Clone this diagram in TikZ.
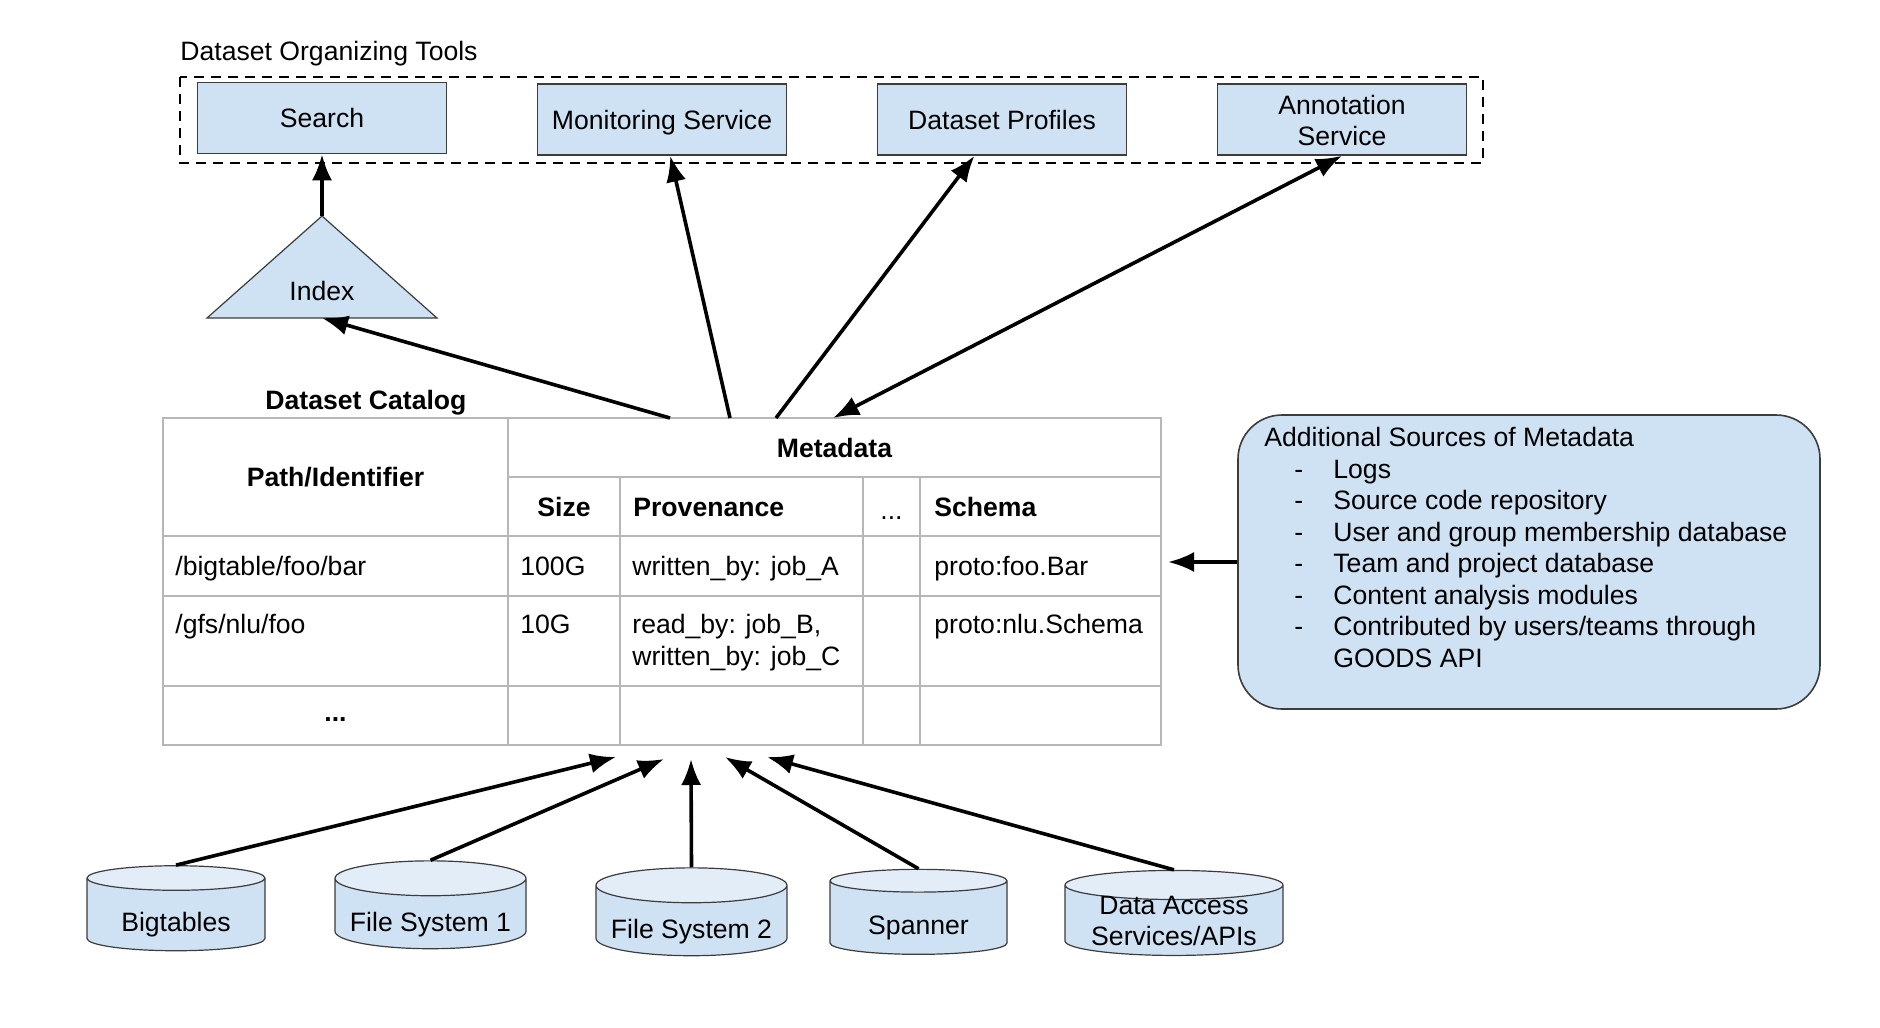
\documentclass[tikz,border=0pt]{standalone}
\usepackage{fontspec}
\setmainfont{Liberation Sans}
\usetikzlibrary{
  arrows.meta,
  calc,
  positioning,
  shapes.geometric
}
\definecolor{boxblue}{HTML}{CFE2F3}
\definecolor{capblue}{HTML}{E3EDF8}
\definecolor{edgegray}{HTML}{3C3C3C}
\definecolor{gridgray}{HTML}{B7B7B7}
\tikzset{
  % For all texts.
  every node/.style={
    font=\fontsize{13.3}{15.75}\selectfont},
%
  % For bold texts.
  header/.style={
    font=\fontsize{13.3}{15.75}\selectfont\bfseries},
%
  % For table entries, placed at their baseline.
  cell/.style={
    anchor=base west,
    inner sep=0pt},
%
  % For the light blue boxes of the tools.  A fixed text height and depth
  % keep descenders from moving the text up.
  tool/.style={
    draw=edgegray,
    line width=0.8pt,
    fill=boxblue,
    minimum width=124.5pt,
    minimum height=35.5pt,
    text height=9.7pt,
    text depth=0pt,
    align=center},
%
  % For the dashed frame around the tools.
  tool frame/.style={
    line width=1.4pt,
    dash pattern=on 5pt off 3.5pt},
%
  % For the index triangle.
  index shape/.style={
    draw=edgegray,
    line width=0.6pt,
    fill=boxblue},
%
  % For the table lines.
  grid line/.style={
    draw=gridgray,
    line width=1pt},
%
  % For the data stores.  The text height pushes the text a bit down into
  % the body of the cylinder.
  store/.style={
    cylinder,
    shape border rotate=90,
    aspect=0.2,
    draw=edgegray,
    line width=0.6pt,
    cylinder uses custom fill,
    cylinder body fill=boxblue,
    cylinder end fill=capblue,
    minimum height=42.5pt,
    text height=14pt,
    text depth=0pt,
    align=center},
%
  % For the box with the other sources.
  source box/.style={
    draw=edgegray,
    line width=0.8pt,
    fill=boxblue,
    rounded corners=22pt,
    minimum width=291pt,
    minimum height=147pt},
%
  % For thick connectors with one arrow.
  flow/.style={
    line width=1.8pt,
    -{Latex[length=13pt,width=10pt]}},
%
  % For thick connectors with two arrows.
  both flow/.style={
    flow,
    {Latex[length=13pt,width=10pt]}-{Latex[length=13pt,width=10pt]}}
}

\begin{document}
\begin{tikzpicture}[x=0.5pt,y=-0.5pt]
  \useasboundingbox (0,0) rectangle (1880,1028);

  % Tools.
  \node[anchor=base west, inner sep=0pt] (tools title) at (180,61) {Dataset Organizing Tools};
  \draw[tool frame] (180,77) rectangle (1483,163);
  \node[tool] (search) at (322,118) {Search};
  \node[tool] (monitoring) at (662,119.5) {Monitoring Service};
  \node[tool] (profiles) at (1002,119.5) {Dataset Profiles};
  \node[tool, text height=26pt] (annotation) at (1342,119.5) {Annotation\\Service};

  % Index.
  \draw[index shape] (322,216) coordinate (index apex)
                       -- (437,318) -- (207,318) -- cycle;
  \coordinate (index base) at (322,318);
  \node (index) at (322,291) {Index};

  % Catalog.
  \node[header, anchor=base] (catalog title) at (366,409) {Dataset Catalog};
  \draw[grid line] (163,418) rectangle (1161,745);
  \draw[grid line] (508,477) -- (1161,477);
  \foreach \y in {536,596,686}
    \draw[grid line] (163,\y) -- (1161,\y);
  \draw[grid line] (508,418) -- (508,745);
  \foreach \x in {620,863,920}
    \draw[grid line] (\x,477) -- (\x,745);

  \node[header, anchor=base] (path head) at (335.5,486) {Path/Identifier};
  \node[header, anchor=base] (metadata head) at (834.5,457) {Metadata};
  \node[header, anchor=base] (size head) at (564,516) {Size};
  \node[header, cell] (provenance head) at (633,516) {Provenance};
  \node (dots head) at (891.5,518) {...};
  \node[header, cell] (schema head) at (934,516) {Schema};

  \node[cell] (path 1) at (175,575) {/bigtable/foo/bar};
  \node[cell] (size 1) at (520,575) {100G};
  \node[cell] (provenance 1) at (632,575) {written\_by: job\_A};
  \node[cell] (schema 1) at (934,575) {proto:foo.Bar};

  \node[cell] (path 2) at (175,633) {/gfs/nlu/foo};
  \node[cell] (size 2) at (520,633) {10G};
  % The base of a two-line node is the base of its last line.
  \node[cell, align=left] (provenance 2) at (632,665) {read\_by: job\_B,\\written\_by: job\_C};
  \node[cell] (schema 2) at (934,633) {proto:nlu.Schema};

  \node[header] (path 3) at (335.5,720) {...};

  % Connector ends on the catalog.
  \coordinate (catalog out 1) at (670,418);
  \coordinate (catalog out 2) at (730,418);
  \coordinate (catalog out 3) at (776,418);
  \coordinate (catalog in top) at (833,418);
  \coordinate (catalog in right) at (1168,562);
  \coordinate (catalog in 1) at (616,757);
  \coordinate (catalog in 2) at (664,759);
  \coordinate (catalog in 3) at (691,759);
  \coordinate (catalog in 4) at (725,757);
  \coordinate (catalog in 5) at (767,757);

  % Other sources.
  \node[source box] (sources) at (1529,562) {};
  \node[anchor=north west, align=left, inner sep=0pt] (sources text) at (1264,427)
    {Additional Sources of Metadata\\
     \hspace*{15pt}\makebox[19.5pt][l]{-}Logs\\
     \hspace*{15pt}\makebox[19.5pt][l]{-}Source code repository\\
     \hspace*{15pt}\makebox[19.5pt][l]{-}User and group membership database\\
     \hspace*{15pt}\makebox[19.5pt][l]{-}Team and project database\\
     \hspace*{15pt}\makebox[19.5pt][l]{-}Content analysis modules\\
     \hspace*{15pt}\makebox[19.5pt][l]{-}Contributed by users/teams through\\
     \hspace*{34.5pt}GOODS API};

  % Data stores.
  \node[store, minimum width=89pt] (bigtables) at (176,917) {Bigtables};
  \node[store, minimum width=95.5pt] (file system 1) at (430.5,917) {File System 1};
  \node[store, minimum width=95.5pt] (file system 2) at (691.5,924) {File System 2};
  \node[store, minimum width=88.5pt] (spanner) at (918.5,920) {Spanner};
  % Two lines do not fit the cylinder's body, so the text is set on top;
  % the text width gives the ends their curve.
  \node[store, minimum width=109pt, text width=66pt] (data access) at (1174,923) {};
  \node[align=center] (data access text) at (1174,921) {Data Access\\Services/APIs};

  % Connectors.
  \draw[flow] (index apex) -- (search);
  \draw[flow] (catalog out 1) -- (index base);
  \draw[flow] (catalog out 2) -- (monitoring);
  \draw[flow] (catalog out 3) -- (profiles);
  \draw[both flow] (annotation.south) -- (catalog in top);
  \draw[flow] (sources) -- (catalog in right);

  \draw[flow] (bigtables.north) -- (catalog in 1);
  \draw[flow] (file system 1.north) -- (catalog in 2);
  \draw[flow] (file system 2.north) -- (catalog in 3);
  \draw[flow] (spanner.north) -- (catalog in 4);
  \draw[flow] (data access.north) -- (catalog in 5);
\end{tikzpicture}
\end{document}
